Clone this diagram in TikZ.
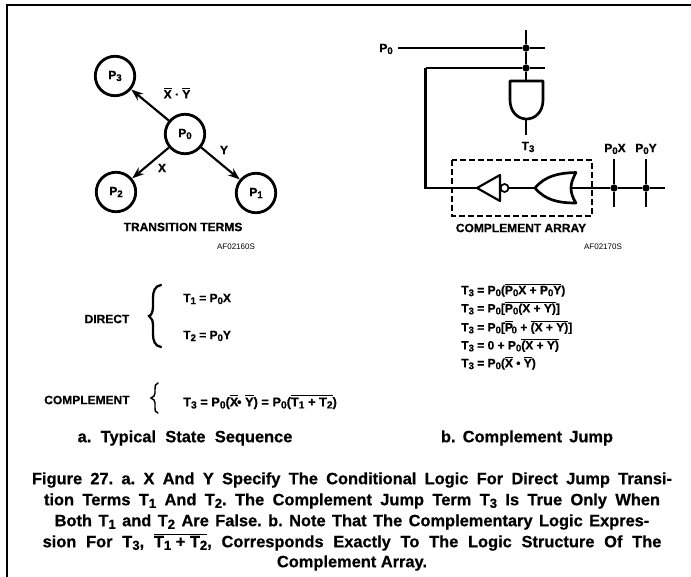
\documentclass[tikz,border=0pt]{standalone}
\usepackage{fontspec}
\setmainfont[BoldFeatures={FakeBold=0.6}]{Liberation Sans}
\usetikzlibrary{arrows.meta}
\frenchspacing
\newcommand\subsc[1]{\raisebox{-0.3ex}{\scalebox{0.8}{#1}}}
\newcommand\ovr[1]{$\overline{\hbox{#1}}$}
\newcommand\Pz{P\subsc{0}}
\newcommand\Tn[1]{T\subsc{#1}}
\tikzset{
  wire/.style={line width=1.6pt},
  gate/.style={line width=2pt,line join=round},
  statenode/.style={circle,draw,line width=2.1pt,minimum size=29.6pt,inner sep=0pt,font=\bfseries\fontsize{9}{10}\selectfont},
  trans/.style={line width=1.6pt,-{Stealth[length=9pt,width=6.5pt]}},
  dotj/.style={circle,fill,inner sep=0pt,minimum size=5.5pt},
  lab/.style={inner sep=0pt,font=\bfseries\fontsize{9}{10}\selectfont},
  codetext/.style={inner sep=0pt,font=\fontsize{6}{7}\selectfont},
  eqn/.style={inner sep=0pt,anchor=west,font=\bfseries\fontsize{9}{10}\selectfont},
  subcap/.style={inner sep=0pt,font=\bfseries\fontsize{12.3}{14}\selectfont},
  captext/.style={inner sep=0pt,font=\bfseries\fontsize{12.3}{14}\selectfont}
}
\begin{document}
\begin{tikzpicture}[x=0.75pt,y=-0.75pt]
\useasboundingbox (0,0) rectangle (691,577);
\fill[white] (0,0) rectangle (691,577);
% frame
\draw[line width=1.4pt] (7,577) -- (7,5) -- (691,5);
% state diagram
\node[statenode] (p0) at (185,134) {\Pz};
\node[statenode] (p1) at (256,193) {P\subsc{1}};
\node[statenode] (p2) at (116,192) {P\subsc{2}};
\node[statenode] (p3) at (115,76) {P\subsc{3}};
\draw[trans] (p0) -- (p1);
\draw[trans] (p0) -- (p2);
\draw[trans] (p0) -- (p3);
\node[lab] (lxy) at (177,93) {\ovr{X} · \ovr{Y}};
\node[lab] (lx) at (162,168) {X};
\node[lab] (ly) at (224,150) {Y};
\node[lab] (tt) at (183,227) {TRANSITION TERMS};
\node[codetext] (af1) at (236,247) {AF02160S};
% complement jump circuit
\node[lab,anchor=east] (pin) at (393,49) {\Pz};
\coordinate (a1) at (398,48);
\coordinate (a2) at (545,48);
\coordinate (b1) at (425.5,68);
\coordinate (b2) at (545,68);
\coordinate (vtop) at (526,30);
\coordinate (gt) at (526,81);
\node[dotj] (j1) at (526,48) {};
\node[dotj] (j2) at (526,68) {};
\draw[wire] (a1) -- (j1) -- (a2);
\draw[wire] (vtop) -- (j1) -- (j2) -- (gt);
\draw[wire] (b2) -- (j2) -- (b1);
% AND gate
\draw[gate] (510,81) -- (543,81) -- (543,100) .. controls (543,112) and (535,119) .. (526.5,119) .. controls (518,119) and (510,112) .. (510,100) -- cycle;
\coordinate (go) at (526,119);
\coordinate (gend) at (526,135);
\draw[wire] (go) -- (gend);
\node[lab] (t3) at (528,147) {\Tn{3}};
% complement array
\draw[line width=1.2pt,dash pattern=on 4.5pt off 2.25pt] (452,160) rectangle (592,216);
\coordinate (invtip) at (477,188);
\draw[wire] (b1) |- (invtip);
\draw[gate,line width=1.6pt] (invtip) -- (500,175) -- (500,201) -- cycle;
\node[circle,draw,line width=1.3pt,minimum size=6pt,inner sep=0pt] (bub) at (504.5,188) {};
\coordinate (ortip) at (535,188);
\draw[wire] (bub) -- (ortip);
\draw[gate] (ortip) .. controls (545,176) and (558,173) .. (576,172.5) .. controls (572,180) and (571,184) .. (571,188) .. controls (571,192) and (572,197) .. (576,203) .. controls (558,203) and (545,200) .. (ortip) -- cycle;
\coordinate (orin) at (571,188);
\coordinate (lend) at (665,188);
\node[dotj] (j3) at (614,188) {};
\node[dotj] (j4) at (646,188) {};
\draw[wire] (orin) -- (j3) -- (j4) -- (lend);
\coordinate (x1) at (614,159);
\coordinate (x2) at (614,207);
\coordinate (y1) at (646,159);
\coordinate (y2) at (646,207);
\draw[wire] (x1) -- (j3) -- (x2);
\draw[wire] (y1) -- (j4) -- (y2);
\node[lab] (lpx) at (615,149) {\Pz X};
\node[lab] (lpy) at (646,149) {\Pz Y};
\node[lab] (ca) at (521,228) {COMPLEMENT ARRAY};
\node[codetext] (af2) at (603,247) {AF02170S};
% left equations
\node[lab] (dir) at (107,319) {DIRECT};
\draw[line width=1.7pt,line cap=round] (161,285) .. controls (155,286) and (153,291) .. (153,298) -- (153,306) .. controls (153,311) and (152,315) .. (149,316) .. controls (152,318) and (153,321) .. (153,326) -- (153,334) .. controls (153,341) and (155,346) .. (161,347);
\node[eqn] (t1) at (183,299) {\Tn{1} = \Pz X};
\node[eqn] (t2) at (183,336) {\Tn{2} = \Pz Y};
\node[lab,anchor=west] (cmp) at (44,400) {COMPLEMENT};
\draw[line width=1.1pt,line cap=round] (158,383) .. controls (155,384) and (155,386) .. (155,389) -- (155,393) .. controls (155,395) and (154,397) .. (151,398) .. controls (154,399) and (155,401) .. (155,403) -- (155,408) .. controls (155,411) and (155,412) .. (158,413);
\node[eqn,font=\bfseries\fontsize{9.6}{11}\selectfont] (t3e) at (183,402) {\Tn{3} = \Pz(\ovr{X}\kern-1pt\textbullet\ \ovr{Y}) = \Pz(\ovr{\Tn{1} + \Tn{2}})};
% right equations
\node[eqn] (e1) at (461,290) {\Tn{3} = \Pz(\ovr{\Pz X + \Pz Y})};
\node[eqn] (e2) at (461,308) {\Tn{3} = \Pz[\ovr{\Pz(X + Y)}]};
\node[eqn] (e3) at (461,327) {\Tn{3} = \Pz[\ovr{P}\kern-1pt\subsc{0} + \ovr{(X + Y)}]};
\node[eqn] (e4) at (461,345) {\Tn{3} = 0 + \Pz\ovr{(X + Y)}};
\node[eqn] (e5) at (461,363) {\Tn{3} = \Pz(\ovr{X} \textbullet\ \ovr{Y})};
% sub-captions
\node[subcap] (suba) at (185,438) {\makebox[161pt][s]{a. Typical State Sequence}};
\node[subcap] (subb) at (527,438) {\makebox[129pt][s]{b. Complement Jump}};
% caption
\node[captext] (c1) at (352,480) {\makebox[480pt][s]{Figure 27. a. X And Y Specify The Conditional Logic For Direct Jump Transi-}};
\node[captext] (c2) at (352,501) {\makebox[462pt][s]{tion Terms \Tn{1} And \Tn{2}. The Complement Jump Term \Tn{3} Is True Only When}};
\node[captext] (c3) at (352,522) {\makebox[446pt][s]{Both \Tn{1} and \Tn{2} Are False. b. Note That The Complementary Logic Expres-}};
\node[captext] (c4) at (352,542) {\makebox[464pt][s]{sion For \Tn{3}, \ovr{\Tn{1} + \Tn{2}}, Corresponds Exactly To The Logic Structure Of The}};
\node[captext] (c5) at (352,563) {Complement Array.};
\end{tikzpicture}
\end{document}
